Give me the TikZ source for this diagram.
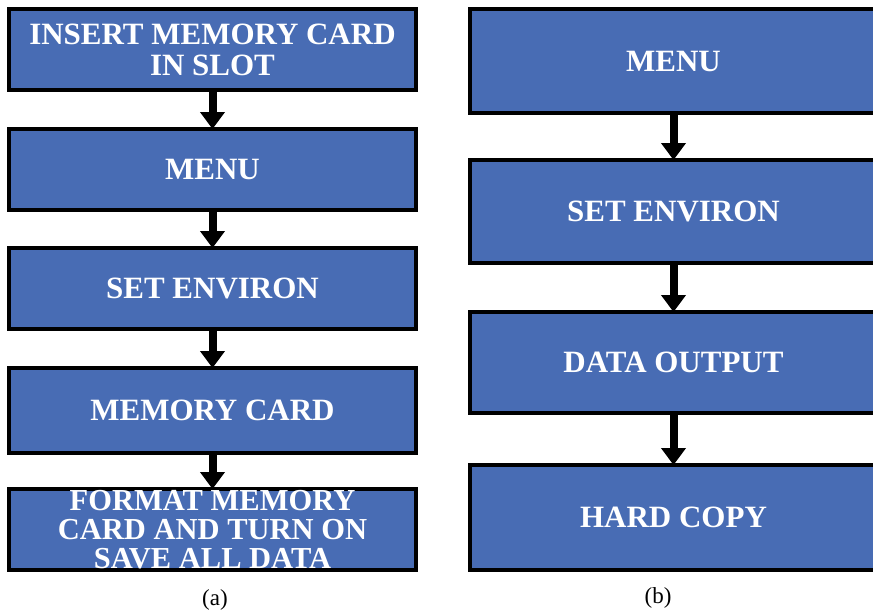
\documentclass[tikz,border=0pt]{standalone}
\usepackage{fontspec}
\setmainfont{Liberation Serif}
\usetikzlibrary{arrows.meta}
\definecolor{boxblue}{RGB}{72,108,180}
\tikzset{
  flowbox/.style={draw=black, line width=4pt, fill=boxblue, text=white,
    minimum width=407pt, inner sep=0pt, align=center,
    font=\fontsize{31}{31}\selectfont\bfseries},
  lbox/.style={flowbox, minimum height=81pt},
  rbox/.style={flowbox, minimum height=103pt},
  flowarrow/.style={line width=8pt, -{Triangle[width=24pt,length=17pt]}, shorten >=-2pt},
  caption/.style={font=\fontsize{23}{25}\selectfont}
}
\begin{document}
\begin{tikzpicture}[x=1pt,y=-1pt]
\useasboundingbox (0,0) rectangle (873,613);
\clip (0,0) rectangle (873,613);
% left column (a)
\node[lbox] (a1) at (212.5,49.5) {INSERT MEMORY CARD\\IN SLOT};
\node[lbox] (a2) at (212.5,169.5) {MENU};
\node[lbox] (a3) at (212.5,288.5) {SET ENVIRON};
\node[lbox, minimum height=85pt] (a4) at (212.5,410.5) {MEMORY CARD};
\node[lbox, font=\fontsize{30.5}{29}\selectfont\bfseries] (a5) at (212.5,529.5) {FORMAT MEMORY\\CARD AND TURN ON\\SAVE ALL DATA};
\draw[flowarrow] (a1.south) -- (a2.north);
\draw[flowarrow] (a2.south) -- (a3.north);
\draw[flowarrow] (a3.south) -- (a4.north);
\draw[flowarrow] (a4.south) -- (a5.north);
\node[caption] (capa) at (215,600) {(a)};
% right column (b)
\node[rbox, minimum height=104pt] (b1) at (673.5,61) {MENU};
\node[rbox] (b2) at (673.5,211.5) {SET ENVIRON};
\node[rbox, minimum height=101pt] (b3) at (673.5,362.5) {DATA OUTPUT};
\node[rbox, minimum height=105pt] (b4) at (673.5,517.5) {HARD COPY};
\draw[flowarrow] (b1.south) -- (b2.north);
\draw[flowarrow] (b2.south) -- (b3.north);
\draw[flowarrow] (b3.south) -- (b4.north);
\node[caption] (capb) at (658,598) {(b)};
\end{tikzpicture}
\end{document}
